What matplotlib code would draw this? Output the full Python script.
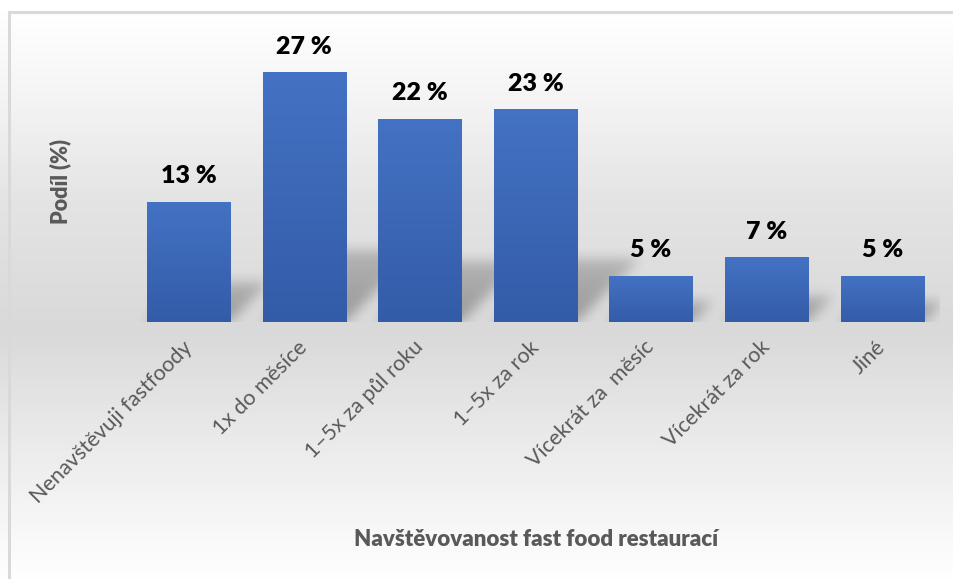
import numpy as np
import matplotlib
matplotlib.use("Agg")
import matplotlib.pyplot as plt
from matplotlib.colors import LinearSegmentedColormap
from matplotlib.lines import Line2D

# Data
categories = [
    "Nenavštěvuji fastfoody",
    "1x do měsíce",
    "1–5x za půl roku",
    "1–5x za rok",
    "Vícekrát za  měsíc",
    "Vícekrát za rok",
    "Jiné",
]
shares = [13, 27, 22, 23, 5, 7, 5]
value_labels = ["13 %", "27 %", "22 %", "23 %", "5 %", "7 %", "5 %"]
x_title = "Navštěvovanost fast food restaurací"
y_title = "Podíl (%)"

W, H, DPI = 954, 579, 100
FONT = "Lato"
GRAY_TXT = "#595959"

fig = plt.figure(figsize=(W / DPI, H / DPI), dpi=DPI)

# Background: vertical gray gradient of the chart area
bg = fig.add_axes([0, 0, 1, 1])
bg.set_zorder(0)
stops_y = np.array([0, 12, 100, 200, 330, 430, 579])
stops_v = np.array([255, 255, 244, 228, 217, 233, 255]) / 255.0
rows = np.interp(np.arange(H), stops_y, stops_v)
img = np.repeat(rows[:, None], 4, axis=1)
bg.imshow(np.dstack([img, img, img]), extent=(0, 1, 0, 1), aspect="auto",
          origin="upper", interpolation="bilinear")
bg.set_xlim(0, 1)
bg.set_ylim(0, 1)
bg.axis("off")

# Chart frame (top and left edges)
fig.add_artist(Line2D([9 / W, 1], [1 - 12 / H, 1 - 12 / H], color="#d9d9d9",
                      lw=2.2, transform=fig.transFigure))
fig.add_artist(Line2D([9 / W, 9 / W], [0, 1 - 12 / H], color="#d9d9d9",
                      lw=2.2, transform=fig.transFigure))

# Main plotting axes
ax_l, ax_r, base_y, top_y = 131, 940, 322, 44.5
ax = fig.add_axes([ax_l / W, (H - base_y) / H, (ax_r - ax_l) / W, (base_y - top_y) / H])
ax.set_zorder(1)
ax.patch.set_alpha(0)
n = len(categories)
ymax = 30
ax.set_xlim(-0.5, n - 0.5)
ax.set_ylim(0, ymax)
x = np.arange(n)
bar_w = 0.72

# Perspective shadows behind the bars, blurred
ax_wpx = ax_r - ax_l
ax_hpx = base_y - top_y
px_per_x = ax_wpx / n
px_per_y = ax_hpx / ymax
ext_top = ymax
gh = int(round(ax_hpx))
gw = int(round(ax_wpx))
xs = -0.5 + (np.arange(gw) + 0.5) / px_per_x
ys = ext_top - (np.arange(gh) + 0.5) / px_per_y
XX, YY = np.meshgrid(xs, ys)
alpha = np.zeros((gh, gw))
for xi, v in zip(x, shares):
    sh = 0.25 * v + 1.0
    dx = sh * px_per_y / px_per_x
    t = YY / sh
    inside = (YY >= 0) & (YY <= sh)
    left = xi - bar_w / 2 + dx * t
    right = xi + bar_w / 2 + dx * t
    m = inside & (XX >= left) & (XX <= right)
    alpha = np.maximum(alpha, np.where(m, 0.30 * (1 - 0.35 * t), 0))

def blur(a, sigma):
    r = int(3 * sigma)
    k = np.exp(-0.5 * (np.arange(-r, r + 1) / sigma) ** 2)
    k /= k.sum()
    a = np.apply_along_axis(lambda c: np.convolve(c, k, mode="same"), 0, a)
    a = np.apply_along_axis(lambda c: np.convolve(c, k, mode="same"), 1, a)
    return a

alpha = blur(alpha, 6)
shadow = np.zeros((gh, gw, 4))
shadow[..., 3] = alpha
ax.imshow(shadow, extent=(-0.5, n - 0.5, 0, ext_top), aspect="auto",
          origin="upper", zorder=1, interpolation="bilinear")
ax.set_xlim(-0.5, n - 0.5)
ax.set_ylim(0, ymax)

# Bars with vertical blue gradient
bar_cmap = LinearSegmentedColormap.from_list("barblue", ["#335ca8", "#4472c4"])
bars = ax.bar(x, shares, width=bar_w, color="none", edgecolor="none", zorder=2)
grad = np.linspace(0, 1, 256)[:, None]
for b in bars:
    x0, y0 = b.get_x(), b.get_y()
    x1, y1 = x0 + b.get_width(), y0 + b.get_height()
    im = ax.imshow(grad, cmap=bar_cmap, extent=(x0, x1, y0, y1), aspect="auto",
                   origin="lower", zorder=2)
    im.set_clip_path(b)
ax.set_xlim(-0.5, n - 0.5)
ax.set_ylim(0, ymax)

# Value labels
for xi, v, lab in zip(x, shares, value_labels):
    ax.annotate(lab, (xi, v), xytext=(0, 18.5 * 72 / DPI), textcoords="offset points",
                ha="center", va="baseline", fontsize=18, fontweight="heavy",
                family=FONT, color="black", zorder=3)

# Axes styling
for s in ax.spines.values():
    s.set_visible(False)
ax.set_yticks([])
ax.set_xticks(x)
ax.set_xticklabels(categories, rotation=45, ha="right", va="center",
                   rotation_mode="anchor", fontsize=15.5, family=FONT, color=GRAY_TXT)
ax.tick_params(axis="x", length=0, pad=16)

fig.text(536 / W, 1 - 540 / H, x_title, ha="center", va="center", fontsize=16,
         fontweight="heavy", family=FONT, color=GRAY_TXT)
fig.text(60 / W, 1 - 181 / H, y_title, ha="center", va="center", rotation=90,
         fontsize=15.5, fontweight="heavy", family=FONT, color=GRAY_TXT)

fig.savefig("out.png", dpi=DPI)
